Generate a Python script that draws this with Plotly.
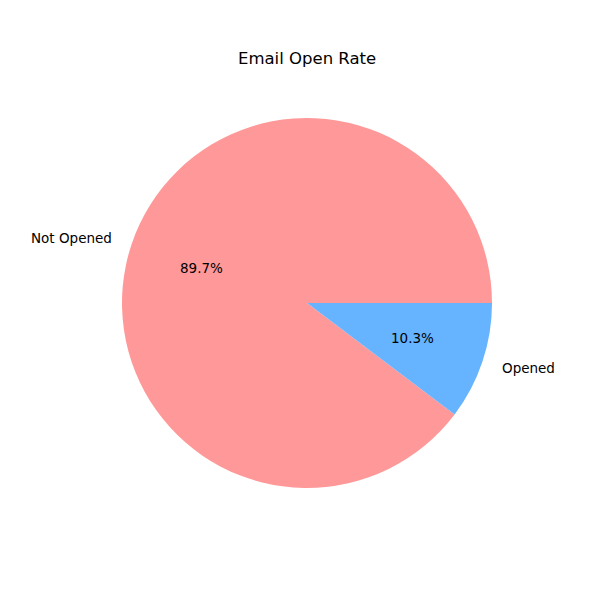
import math
import plotly.graph_objects as go

labels = ["Not Opened", "Opened"]
values = [89.7, 10.3]
colors = ["#ff9999", "#66b3ff"]
title = "Email Open Rate"

W = H = 600
cx, cy, r = 307, 303, 185  # pie centre / radius in pixels
total = sum(values)

# Plotly's counterclockwise pie ends the first slice at the rotation angle;
# shift so that the first slice starts at 3 o'clock (matplotlib startangle=0).
rotation = 90 + 360 * sum(values[1:]) / total

fig = go.Figure(go.Pie(
    labels=labels, values=values, sort=False,
    direction="counterclockwise", rotation=rotation,
    marker=dict(colors=colors, line=dict(width=0)),
    textinfo="none", hoverinfo="label+percent", showlegend=False,
    domain=dict(x=[(cx - r) / W, (cx + r) / W], y=[1 - (cy + r) / H, 1 - (cy - r) / H]),
))

font = dict(family="DejaVu Sans", size=13.5, color="black")
annotations = []
start = 0.0
for lab, v in zip(labels, values):
    span = 360 * v / total
    mid = math.radians(start + span / 2)
    start += span
    c, s = math.cos(mid), math.sin(mid)
    lx, ly = cx + 1.1 * r * c, cy - 1.1 * r * s
    annotations.append(dict(
        x=lx / W, y=1 - ly / H, xref="paper", yref="paper", text=lab, showarrow=False,
        xanchor="left" if c >= 0 else "right", yanchor="middle", font=font))
    px, py = cx + 0.6 * r * c, cy - 0.6 * r * s
    annotations.append(dict(
        x=px / W, y=1 - py / H, xref="paper", yref="paper", text=f"{100 * v / total:.1f}%",
        showarrow=False, xanchor="center", yanchor="middle", font=font))

annotations.append(dict(
    x=cx / W, y=1 - 58 / H, xref="paper", yref="paper", text=title, showarrow=False,
    xanchor="center", yanchor="middle", font=dict(family="DejaVu Sans", size=16.5, color="black")))

fig.update_layout(
    width=W, height=H, margin=dict(l=0, r=0, t=0, b=0),
    paper_bgcolor="white", plot_bgcolor="white", annotations=annotations,
)
fig.write_html("out.html", config={"displayModeBar": False},
               post_script="document.body.style.margin='0';")
